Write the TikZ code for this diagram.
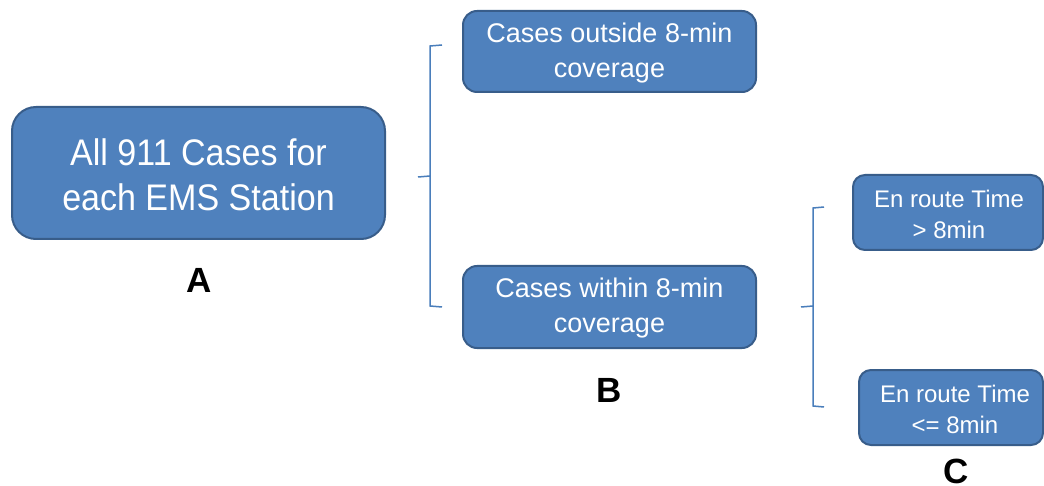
\documentclass[tikz,border=0pt]{standalone}
\usepackage{fontspec}
\setmainfont{Liberation Sans}
\newfontfamily\condfont[FakeStretch=0.92]{Liberation Sans}
\definecolor{boxfill}{HTML}{4F81BD}
\definecolor{boxline}{HTML}{385D8A}
\definecolor{brk}{HTML}{4A7EBB}
\begin{document}
\begin{tikzpicture}[x=1pt,y=-1pt,
  box/.style={draw=boxline, line width=2pt, fill=boxfill, rounded corners=14pt,
    text=white, align=center, inner sep=0pt},
  bigbox/.style={box, rounded corners=24pt, font=\condfont\fontsize{37}{45}\selectfont},
  midbox/.style={box, font=\fontsize{27}{35}\selectfont},
  smallbox/.style={box, rounded corners=12pt, font=\fontsize{24}{31}\selectfont},
  lbl/.style={font=\bfseries\fontsize{35}{40}\selectfont, inner sep=0pt},
  brace/.style={draw=brk, line width=1.5pt}]
\useasboundingbox (0,0) rectangle (1044,486);
\node[bigbox, minimum width=373pt, minimum height=132pt] (A) at (198.5,173) {};
\node[bigbox, draw=none, fill=none] (At) at (198.5,175) {All 911 Cases for\\each EMS Station};
\node[lbl] (LA) at (199,280.5) {A};
\node[midbox, minimum width=293pt, minimum height=81pt] (B1) at (609.5,51.5) {};
\node[midbox, draw=none, fill=none] (B1t) at (609.5,53) {Cases outside 8-min\\coverage};
\node[midbox, minimum width=293pt, minimum height=82pt] (B2) at (609.5,307) {};
\node[midbox, draw=none, fill=none] (B2t) at (609.5,308.5) {Cases within 8-min\\coverage};
\node[lbl] (LB) at (609.5,390.5) {B};
\node[smallbox, minimum width=190pt, minimum height=75pt] (C1) at (948,212.5) {};
\node[smallbox, draw=none, fill=none] (C1t) at (949,214) {En route Time\\> 8min};
\node[smallbox, minimum width=184pt, minimum height=75pt] (C2) at (951,407.5) {};
\node[smallbox, draw=none, fill=none] (C2t) at (955,409) {En route Time\\<= 8min};
\node[lbl] (LC) at (956,471) {C};
% brace 1
\draw[brace] (442,45) -- (430,46) -- (430,176) -- (418,177);
\draw[brace] (430,176) -- (430,306) -- (442,307);
% brace 2
\draw[brace] (824,207) -- (813,208) -- (813,306) -- (801,307);
\draw[brace] (813,306) -- (813,406) -- (824,407);
\end{tikzpicture}
\end{document}
